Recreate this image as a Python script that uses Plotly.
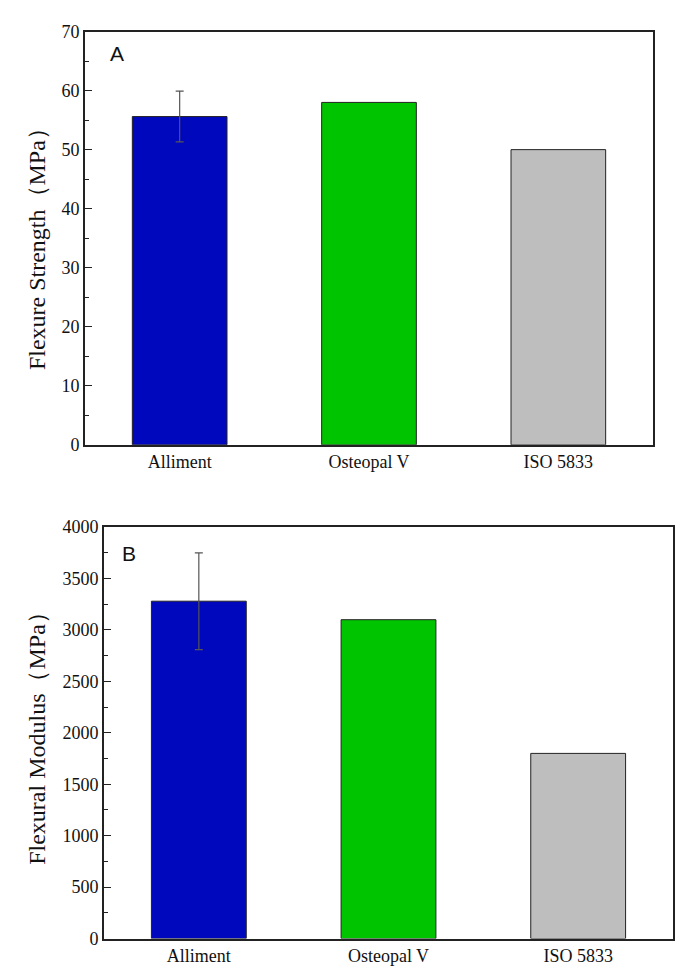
import plotly.graph_objects as go

categories = ["Alliment", "Osteopal V", "ISO 5833"]
strength_values = [55.6, 58.0, 50.0]
strength_error_cat = ["Alliment"]
strength_error_mean = [55.6]
strength_error_sd = [4.3]
modulus_values = [3280, 3100, 1800]
modulus_error_cat = ["Alliment"]
modulus_error_mean = [3280]
modulus_error_sd = [470]
bar_colors = ["#0008BE", "#00C400", "#BEBEBE"]

W, H = 682, 973
def px_x(x):
    return x / W
def px_y(y):
    return 1 - y / H

fig = go.Figure()

fig.add_trace(go.Bar(
    x=categories, y=strength_values, width=0.5,
    marker=dict(color=bar_colors, line=dict(color="#222222", width=1)),
    xaxis="x", yaxis="y", showlegend=False))
fig.add_trace(go.Scatter(
    x=strength_error_cat, y=strength_error_mean, mode="markers",
    marker=dict(size=1, opacity=0),
    error_y=dict(type="data", array=strength_error_sd, color="#555555", thickness=1.2, width=4),
    xaxis="x", yaxis="y", showlegend=False, hoverinfo="skip"))

fig.add_trace(go.Bar(
    x=categories, y=modulus_values, width=0.5,
    marker=dict(color=bar_colors, line=dict(color="#222222", width=1)),
    xaxis="x2", yaxis="y2", showlegend=False))
fig.add_trace(go.Scatter(
    x=modulus_error_cat, y=modulus_error_mean, mode="markers",
    marker=dict(size=1, opacity=0),
    error_y=dict(type="data", array=modulus_error_sd, color="#555555", thickness=1.2, width=4),
    xaxis="x2", yaxis="y2", showlegend=False, hoverinfo="skip"))

tickfont = dict(family="Liberation Serif", size=18, color="#111111")
common_x = dict(showline=True, linecolor="#222222", linewidth=1.6, mirror=True,
                ticks="", tickfont=tickfont, showgrid=False, zeroline=False,
                range=[-0.5, 2.5])
common_y = dict(showline=True, linecolor="#222222", linewidth=1.6, mirror=True,
                ticks="inside", ticklen=7, tickwidth=1.4, tickcolor="#222222",
                tickfont=tickfont, showgrid=False, zeroline=False)

fig.update_layout(
    width=W, height=H,
    margin=dict(l=0, r=0, t=0, b=0),
    paper_bgcolor="white", plot_bgcolor="white",
    xaxis=dict(domain=[px_x(85), px_x(653)], anchor="y", **common_x),
    yaxis=dict(domain=[px_y(444), px_y(22)], anchor="x", range=[0, 70], dtick=10,
               minor=dict(ticks="inside", ticklen=4, tickwidth=1.2, tickcolor="#222222", dtick=5),
               **common_y),
    xaxis2=dict(domain=[px_x(104), px_x(673)], anchor="y2", **common_x),
    yaxis2=dict(domain=[px_y(948), px_y(528)], anchor="x2", range=[0, 4000], dtick=500,
                minor=dict(ticks="inside", ticklen=4, tickwidth=1.2, tickcolor="#222222", dtick=250),
                **common_y),
    annotations=[
        dict(text="A", x=px_x(117), y=px_y(44), xref="paper", yref="paper", showarrow=False,
             xanchor="center", yanchor="middle",
             font=dict(family="Liberation Sans", size=21, color="#111111")),
        dict(text="B", x=px_x(129), y=px_y(555), xref="paper", yref="paper", showarrow=False,
             xanchor="center", yanchor="middle",
             font=dict(family="Liberation Sans", size=21, color="#111111")),
        dict(text="Flexure Strength（MPa）", x=px_x(37), y=px_y(238), xref="paper", yref="paper",
             showarrow=False, textangle=-90, xanchor="center", yanchor="middle",
             font=dict(family="Liberation Serif", size=24, color="#111111")),
        dict(text="Flexural Modulus（MPa）", x=px_x(37), y=px_y(738), xref="paper", yref="paper",
             showarrow=False, textangle=-90, xanchor="center", yanchor="middle",
             font=dict(family="Liberation Serif", size=24, color="#111111")),
    ],
)

fig.write_html(
    "out.html",
    config={"displayModeBar": False},
    post_script="document.documentElement.style.margin='0';document.body.style.margin='0';"
                "document.documentElement.style.overflow='hidden';document.body.style.overflow='hidden';",
)
